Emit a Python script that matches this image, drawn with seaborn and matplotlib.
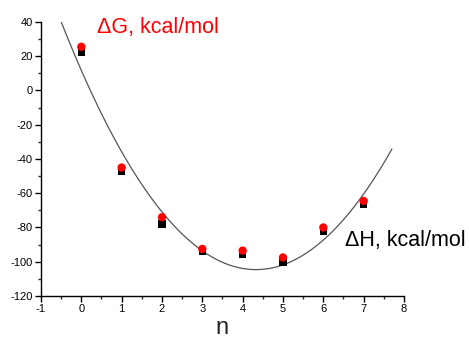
import numpy as np
import pandas as pd
import matplotlib
matplotlib.use("Agg")
import matplotlib.pyplot as plt
import seaborn as sns
from matplotlib.ticker import MultipleLocator

# values
n = [0, 1, 2, 3, 4, 5, 6, 7]
dG = [25.5, -45, -74, -92.5, -93.5, -97.5, -80, -64.5]
dH = [22, -47, -78, -94, -95.5, -100.5, -82.5, -66.5]

df = pd.DataFrame({"n": n, "dG": dG, "dH": dH})

sns.set_style("ticks")
plt.rcParams["font.family"] = ["Liberation Sans", "DejaVu Sans"]
plt.rcParams["axes.unicode_minus"] = False

fig = plt.figure(figsize=(4.69, 3.43), dpi=100)
ax = fig.add_axes([0.0874, 0.137, 0.774, 0.799])

# quadratic fit of dH, drawn over the range shown in the original
ax.set_xlim(-0.5, 7.7)
sns.regplot(data=df, x="n", y="dH", order=2, ci=None, scatter=False,
            truncate=False, ax=ax, line_kws=dict(color="#555555", lw=0.9))

sns.scatterplot(data=df, x="n", y="dH", marker="s", color="black", s=28,
                edgecolor="none", ax=ax, zorder=3)
sns.scatterplot(data=df, x="n", y="dG", marker="o", color="red", s=36,
                edgecolor="none", ax=ax, zorder=4)

ax.set_xlim(-1, 8)
ax.set_ylim(-120, 40)
ax.xaxis.set_major_locator(MultipleLocator(1))
ax.xaxis.set_minor_locator(MultipleLocator(0.5))
ax.yaxis.set_major_locator(MultipleLocator(20))
ax.yaxis.set_minor_locator(MultipleLocator(10))
ax.tick_params(which="major", direction="out", length=4, width=1,
               labelsize=8, pad=2, colors="black")
ax.tick_params(which="minor", direction="out", length=2.5, width=1)
sns.despine(ax=ax)
for s in ["left", "bottom"]:
    ax.spines[s].set_linewidth(1)
    ax.spines[s].set_color("black")

ax.set_xlabel("n", fontsize=17, labelpad=2)
ax.set_ylabel("")

fig.text(0.207, 0.921, "\u0394G, kcal/mol", color="red", fontsize=15.5,
         va="center", ha="left")
fig.text(0.735, 0.30, "\u0394H, kcal/mol", color="black", fontsize=15.5,
         va="center", ha="left")

fig.savefig("out.png", dpi=100)
